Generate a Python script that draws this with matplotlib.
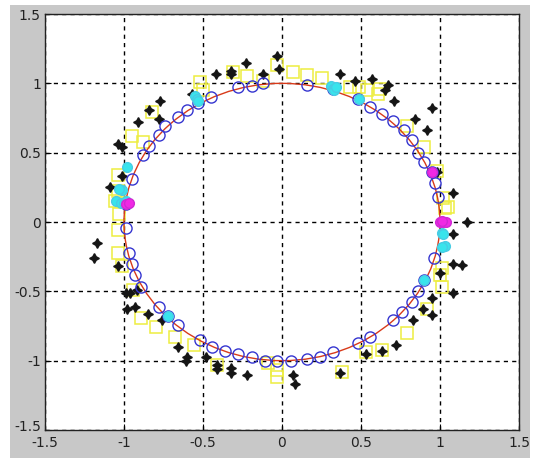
import numpy as np
import matplotlib
matplotlib.use('Agg')
import matplotlib.pyplot as plt
import matplotlib.transforms as mtransforms
from matplotlib.patches import Circle, Rectangle

# estimates on the unit circle (blue open circles)
circ_x = [-0.99, -0.99, -0.95, -0.88, -0.84, -0.78, -0.74, -0.66, -0.60, -0.53, -0.45,
          -0.28, -0.19, -0.12, 0.16, 0.32, 0.48, 0.56, 0.63, 0.70, 0.77, 0.82,
          0.86, 0.90, 0.95, 0.97, 0.99, 0.96, 0.90, 0.86, 0.82, 0.76, 0.70,
          0.56, 0.48, 0.32, 0.24, 0.16, 0.06, -0.03, -0.11, -0.19, -0.28, -0.36,
          -0.44, -0.52, -0.66, -0.72, -0.78, -0.89, -0.93, -0.95, -0.97]
circ_y = [-0.04, 0.13, 0.31, 0.48, 0.55, 0.63, 0.69, 0.76, 0.81, 0.86, 0.90,
          0.97, 0.98, 1.00, 0.99, 0.96, 0.89, 0.83, 0.78, 0.73, 0.66, 0.59,
          0.50, 0.43, 0.36, 0.28, 0.18, -0.26, -0.42, -0.50, -0.58, -0.65, -0.71,
          -0.83, -0.87, -0.94, -0.97, -0.99, -1.00, -1.00, -1.00, -0.97, -0.95, -0.93,
          -0.90, -0.85, -0.74, -0.68, -0.61, -0.47, -0.38, -0.30, -0.22]

# yellow open squares
sq_x = [-1.04, -1.04, -1.03, -1.04, -1.06, -0.95, -0.88, -0.82, -0.52, -0.50, -0.31,
        -0.22, -0.12, -0.03, 0.07, 0.16, 0.25, 0.43, 0.49, 0.54, 0.61, 0.62,
        0.79, 0.90, 0.98, 1.02, 1.03, 1.05, 1.01, 1.00, 1.01, 0.92, 0.79,
        0.63, 0.53, 0.38, -0.03, -0.03, -0.09, -0.41, -0.56, -0.68, -0.80,
        -0.89, -0.94, -1.01, -1.04]
sq_y = [0.34, 0.22, 0.06, -0.06, 0.15, 0.62, 0.58, 0.79, 1.01, 0.95, 1.08,
        1.05, 1.02, 1.13, 1.08, 1.06, 1.04, 0.97, 0.97, 0.95, 0.92, 0.96,
        0.69, 0.54, 0.37, 0.17, 0.10, 0.11, -0.33, -0.38, -0.47, -0.63, -0.80,
        -0.92, -0.94, -1.08, -1.07, -1.12, -1.02, -1.03, -0.89, -0.83, -0.76,
        -0.69, -0.49, -0.32, -0.22]

# black stars
st_x = [-1.09, -1.01, -1.04, -1.01, -0.91, -0.84, -0.77, -0.78, -0.57, -0.42, -0.32,
        -0.32, -0.23, -0.12, -0.03, -0.02, 0.37, 0.46, 0.57, 0.67, 0.65, 0.71,
        0.95, 0.84, 0.92, 0.98, 1.08, 1.17, 1.08, 1.08, 1.14, 1.00, 1.08,
        0.95, 0.89, 0.95, 0.83, 0.72, 0.63, 0.53, 0.37, 0.07, 0.08,
        -1.17, -1.19, -1.04, -0.99, -0.96, -0.92, -0.98, -0.93, -0.85, -0.76,
        -0.66, -0.60, -0.61, -0.48, -0.41, -0.41, -0.32, -0.32, -0.22]
st_y = [0.25, 0.33, 0.56, 0.54, 0.72, 0.81, 0.87, 0.74, 0.92, 1.07, 1.09,
        1.07, 1.15, 1.07, 1.20, 1.10, 1.07, 1.02, 1.03, 0.99, 0.95, 0.87,
        0.82, 0.74, 0.66, 0.36, 0.21, 0.00, -0.09, -0.30, -0.31, -0.37, -0.51,
        -0.55, -0.63, -0.67, -0.71, -0.89, -0.93, -0.95, -1.09, -1.10, -1.17,
        -0.15, -0.26, -0.32, -0.51, -0.51, -0.49, -0.63, -0.61, -0.66, -0.71,
        -0.90, -0.97, -1.00, -0.97, -1.03, -1.06, -1.05, -1.09, -1.10]

# cyan circles
cy_x = [-1.05, -1.02, -1.00, -0.99, -1.01, -1.03, -0.98, -0.55, -0.54, -0.53,
        0.31, 0.32, 0.33, 0.34, 0.49, 1.01, 1.02, 1.03, 1.01, 0.90, -0.72]
cy_y = [0.15, 0.14, 0.14, 0.15, 0.23, 0.24, 0.40, 0.91, 0.89, 0.87,
        0.98, 0.96, 0.95, 0.97, 0.89, -0.08, -0.09, -0.17, -0.18, -0.42, -0.68]

# magenta circles
mg_x = [1.00, 1.02, 1.04, 1.01, 0.95, -0.99, -0.97]
mg_y = [0.00, 0.00, 0.00, 0.01, 0.36, 0.13, 0.14]

fig = plt.figure(figsize=(5.34, 4.62), dpi=100)
fig.patch.set_facecolor('white')
fig.patches.append(Rectangle((10/534, 4/462), 520/534, 453/462, transform=fig.transFigure,
                             facecolor='#c8c8c8', edgecolor='none', zorder=-10))
ax = fig.add_axes([45/534, 32/462, 474/534, 416/462])
ax.set_facecolor('white')

ax.plot(sq_x, sq_y, linestyle='none', marker='s', markersize=8.5, markerfacecolor='none',
        markeredgecolor='#eeee40', markeredgewidth=1.1, zorder=3)
ax.plot(st_x, st_y, linestyle='none', marker=(4, 1, 0), markersize=7, color='#151515', zorder=4)
ax.add_patch(Circle((0, 0), 1.0, fill=False, edgecolor='#d83a1a', linewidth=1.0, zorder=5))
ax.plot(circ_x, circ_y, linestyle='none', marker='o', markersize=8, markerfacecolor='none',
        markeredgecolor='#3535d0', markeredgewidth=1.0, zorder=6)
ax.plot(cy_x, cy_y, linestyle='none', marker='o', markersize=7, markerfacecolor='#38e4ec',
        markeredgecolor='#48cce4', markeredgewidth=1.0, zorder=7)
ax.plot(mg_x, mg_y, linestyle='none', marker='o', markersize=7, markerfacecolor='#f028e4',
        markeredgecolor='#d028d4', markeredgewidth=1.0, zorder=8)

ticks = np.arange(-1.5, 1.51, 0.5)
tick_labels = ['-1.5', '-1', '-0.5', '0', '0.5', '1', '1.5']
ax.set_xlim(-1.5, 1.5)
ax.set_ylim(-1.5, 1.5)
ax.set_xticks(ticks)
ax.set_yticks(ticks)
ax.set_xticklabels(tick_labels)
ax.set_yticklabels(tick_labels)
ax.tick_params(direction='in', length=4, labelsize=10, labelcolor='#222222')
ax.tick_params(axis='x', pad=4)
ax.tick_params(axis='y', pad=3)
ax.grid(True, color='black', linestyle=(0, (3, 3)), linewidth=1.0)
ax.set_axisbelow(True)
for s in ax.spines.values():
    s.set_color('#222222')
    s.set_linewidth(1.0)

# nudge the bottom y label up so it does not sit on the x label
lab = ax.get_yticklabels()[0]
lab.set_transform(lab.get_transform() + mtransforms.ScaledTranslation(0, 3/72, fig.dpi_scale_trans))

fig.savefig('out.png', dpi=100)
